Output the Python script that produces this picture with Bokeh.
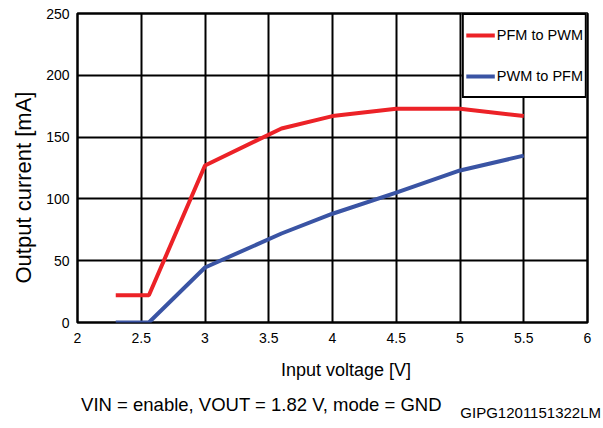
from bokeh.plotting import figure
from bokeh.models import Range1d, FixedTicker, Legend, LegendItem, Title
from bokeh.layouts import column
from bokeh.core.properties import value
from bokeh.embed import file_html
from bokeh.resources import INLINE

# ---- data ----
x_pfm_to_pwm = [2.3, 2.56, 3.0, 3.6, 4.0, 4.5, 5.0, 5.5]
y_pfm_to_pwm = [22, 22, 127, 157, 167, 173, 173, 167]

x_pwm_to_pfm = [2.3, 2.56, 3.0, 3.6, 4.0, 4.5, 5.0, 5.5]
y_pwm_to_pfm = [0, 0, 44.5, 72, 88, 105, 123, 135]

x_ticks = [2, 2.5, 3, 3.5, 4, 4.5, 5, 5.5, 6]
x_tick_labels = ["2", "2.5", "3", "3.5", "4", "4.5", "5", "5.5", "6"]
y_ticks = [0, 50, 100, 150, 200, 250]
y_tick_labels = ["0", "50", "100", "150", "200", "250"]

series_names = ["PFM to PWM", "PWM to PFM"]
series_colors = ["#ec2227", "#3a54a4"]

y_title = "Output current [mA]"
x_title = "Input voltage [V]"
caption = "VIN = enable, VOUT = 1.82 V, mode = GND"
figure_id = "GIPG1201151322LM"

FONT = "Liberation Sans"
W = 603

# ---- main chart ----
p = figure(width=W, height=350, output_backend="svg", toolbar_location=None,
           x_range=Range1d(2, 6), y_range=Range1d(0, 250))
p.min_border_left = 77
p.min_border_top = 13
p.min_border_right = W - 587
p.min_border_bottom = 28
p.background_fill_color = "white"
p.border_fill_color = "white"
p.outline_line_color = "black"
p.outline_line_width = 2.5

p.xaxis.ticker = FixedTicker(ticks=x_ticks)
p.yaxis.ticker = FixedTicker(ticks=y_ticks)
p.xaxis.major_label_overrides = {t: l for t, l in zip(x_ticks, x_tick_labels)}
p.yaxis.major_label_overrides = {t: l for t, l in zip(y_ticks, y_tick_labels)}
for ax in (p.xaxis, p.yaxis):
    ax.axis_line_color = None
    ax.major_tick_line_color = None
    ax.minor_tick_line_color = None
    ax.major_tick_out = 0
    ax.major_tick_in = 0
    ax.major_label_text_font = FONT
    ax.major_label_text_font_size = "14px"
    ax.major_label_text_color = "black"
p.xaxis.major_label_standoff = 10
p.yaxis.major_label_standoff = 8

for g in (p.xgrid, p.ygrid):
    g.grid_line_color = "black"
    g.grid_line_width = 2
    g.grid_line_alpha = 1

r1 = p.line(x_pfm_to_pwm, y_pfm_to_pwm, line_color=series_colors[0], line_width=4)
r2 = p.line(x_pwm_to_pfm, y_pwm_to_pfm, line_color=series_colors[1], line_width=4)

legend = Legend(items=[LegendItem(label=series_names[0], renderers=[r1]),
                       LegendItem(label=series_names[1], renderers=[r2])],
                location="top_right", margin=0, padding=2, spacing=5,
                glyph_width=29, glyph_height=36, label_height=36,
                label_standoff=2, border_line_color="black",
                border_line_width=2, border_line_alpha=1,
                background_fill_color="white", background_fill_alpha=1,
                label_text_font=FONT, label_text_font_size="14.5px",
                label_text_color="black")
p.add_layout(legend, "center")

p.add_layout(Title(text=y_title, align="left", offset=39, standoff=16,
                   text_font=FONT, text_font_size="22px",
                   text_font_style="normal", text_color="black"), "left")

# ---- text strip below the chart ----
q = figure(frame_width=W, frame_height=78, output_backend="svg",
           toolbar_location=None,
           x_range=Range1d(0, W), y_range=Range1d(428, 350),
           x_axis_type=None, y_axis_type=None)
if hasattr(q, "frame_align"):
    q.frame_align = False
q.min_border = 0
q.min_border_left = 0
q.min_border_right = 0
q.min_border_top = 0
q.min_border_bottom = 0
q.outline_line_color = None
q.grid.visible = False
q.background_fill_color = "white"
q.border_fill_color = "white"

q.text(x=[345.5], y=[369], text=[x_title], text_align="center",
       text_baseline="alphabetic", text_font=value(FONT),
       text_font_size="18px", text_color="black")
q.text(x=[261], y=[404], text=[caption], text_align="center",
       text_baseline="alphabetic", text_font=value(FONT),
       text_font_size="18.5px", text_color="black")
q.text(x=[600.5], y=[412], text=[figure_id], text_align="right",
       text_baseline="alphabetic", text_font=value(FONT),
       text_font_size="15px", text_color="black")

layout = column(p, q, spacing=0)
open("out.html", "w").write(file_html(layout, INLINE))
